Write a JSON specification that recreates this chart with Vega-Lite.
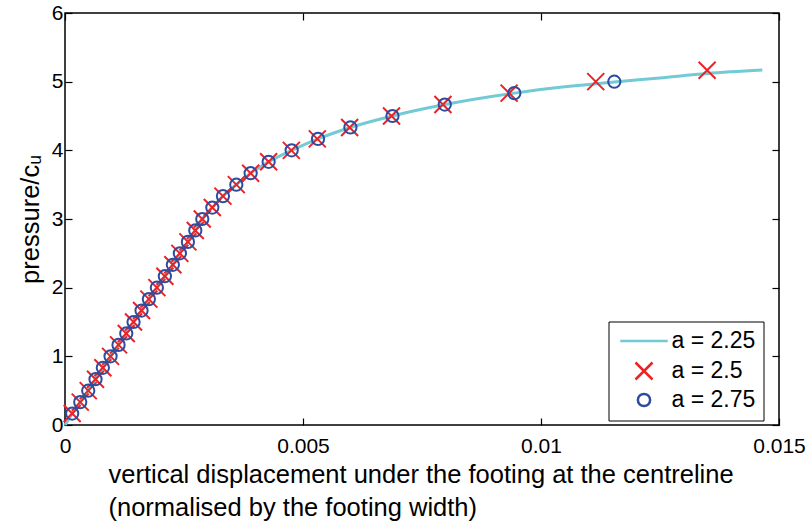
{
  "$schema": "https://vega.github.io/schema/vega-lite/v6.json",
  "width": 714,
  "height": 412,
  "autosize": "none",
  "padding": {"left": 65, "top": 13, "right": 30, "bottom": 98},
  "config": {
    "view": {"stroke": "black", "strokeWidth": 1.5},
    "font": "Liberation Sans",
    "axis": {
      "domain": false,
      "grid": false,
      "ticks": true,
      "tickColor": "black",
      "tickWidth": 1.2,
      "tickSize": -7,
      "labelFont": "Liberation Sans",
      "labelFontSize": 21,
      "labelColor": "black",
      "titleFont": "Liberation Sans",
      "titleFontSize": 25.5,
      "titleFontWeight": "normal",
      "titleColor": "black"
    },
    "legend": {
      "orient": "none",
      "legendX": 543.5,
      "legendY": 308.5,
      "strokeColor": "black",
      "fillColor": "white",
      "padding": 8,
      "labelFont": "Liberation Sans",
      "labelFontSize": 23,
      "labelColor": "black",
      "symbolStrokeWidth": 2.5,
      "symbolOffset": 16,
      "labelOffset": 16,
      "rowPadding": 4
    }
  },
  "data": {
    "values": [
      {"series": "a = 2.25", "x": 0, "y": 0},
      {"series": "a = 2.25", "x": 0.000151, "y": 0.1667},
      {"series": "a = 2.25", "x": 0.000320, "y": 0.3333},
      {"series": "a = 2.25", "x": 0.000488, "y": 0.5},
      {"series": "a = 2.25", "x": 0.000641, "y": 0.6667},
      {"series": "a = 2.25", "x": 0.000795, "y": 0.8333},
      {"series": "a = 2.25", "x": 0.000957, "y": 1.0},
      {"series": "a = 2.25", "x": 0.001125, "y": 1.1667},
      {"series": "a = 2.25", "x": 0.001287, "y": 1.3333},
      {"series": "a = 2.25", "x": 0.001440, "y": 1.5},
      {"series": "a = 2.25", "x": 0.001608, "y": 1.6667},
      {"series": "a = 2.25", "x": 0.001762, "y": 1.8333},
      {"series": "a = 2.25", "x": 0.001930, "y": 2.0},
      {"series": "a = 2.25", "x": 0.002098, "y": 2.1667},
      {"series": "a = 2.25", "x": 0.002266, "y": 2.3333},
      {"series": "a = 2.25", "x": 0.002413, "y": 2.5},
      {"series": "a = 2.25", "x": 0.002582, "y": 2.6667},
      {"series": "a = 2.25", "x": 0.002737, "y": 2.8333},
      {"series": "a = 2.25", "x": 0.002884, "y": 3.0},
      {"series": "a = 2.25", "x": 0.003095, "y": 3.1667},
      {"series": "a = 2.25", "x": 0.003318, "y": 3.3333},
      {"series": "a = 2.25", "x": 0.003599, "y": 3.5},
      {"series": "a = 2.25", "x": 0.003900, "y": 3.6667},
      {"series": "a = 2.25", "x": 0.004278, "y": 3.8333},
      {"series": "a = 2.25", "x": 0.004762, "y": 4.0},
      {"series": "a = 2.25", "x": 0.005315, "y": 4.1667},
      {"series": "a = 2.25", "x": 0.005996, "y": 4.3333},
      {"series": "a = 2.25", "x": 0.006879, "y": 4.5},
      {"series": "a = 2.25", "x": 0.007978, "y": 4.6667},
      {"series": "a = 2.25", "x": 0.009440, "y": 4.8333},
      {"series": "a = 2.25", "x": 0.010500, "y": 4.925},
      {"series": "a = 2.25", "x": 0.011540, "y": 4.995},
      {"series": "a = 2.25", "x": 0.012500, "y": 5.055},
      {"series": "a = 2.25", "x": 0.013490, "y": 5.12},
      {"series": "a = 2.25", "x": 0.014650, "y": 5.17},

      {"series": "a = 2.5", "x": 0.000151, "y": 0.1667},
      {"series": "a = 2.5", "x": 0.000320, "y": 0.3333},
      {"series": "a = 2.5", "x": 0.000488, "y": 0.5},
      {"series": "a = 2.5", "x": 0.000641, "y": 0.6667},
      {"series": "a = 2.5", "x": 0.000795, "y": 0.8333},
      {"series": "a = 2.5", "x": 0.000957, "y": 1.0},
      {"series": "a = 2.5", "x": 0.001125, "y": 1.1667},
      {"series": "a = 2.5", "x": 0.001287, "y": 1.3333},
      {"series": "a = 2.5", "x": 0.001440, "y": 1.5},
      {"series": "a = 2.5", "x": 0.001608, "y": 1.6667},
      {"series": "a = 2.5", "x": 0.001762, "y": 1.8333},
      {"series": "a = 2.5", "x": 0.001930, "y": 2.0},
      {"series": "a = 2.5", "x": 0.002098, "y": 2.1667},
      {"series": "a = 2.5", "x": 0.002266, "y": 2.3333},
      {"series": "a = 2.5", "x": 0.002413, "y": 2.5},
      {"series": "a = 2.5", "x": 0.002582, "y": 2.6667},
      {"series": "a = 2.5", "x": 0.002737, "y": 2.8333},
      {"series": "a = 2.5", "x": 0.002884, "y": 3.0},
      {"series": "a = 2.5", "x": 0.003095, "y": 3.1667},
      {"series": "a = 2.5", "x": 0.003318, "y": 3.3333},
      {"series": "a = 2.5", "x": 0.003599, "y": 3.5},
      {"series": "a = 2.5", "x": 0.003900, "y": 3.6667},
      {"series": "a = 2.5", "x": 0.004278, "y": 3.8333},
      {"series": "a = 2.5", "x": 0.004755, "y": 4.0},
      {"series": "a = 2.5", "x": 0.005300, "y": 4.1667},
      {"series": "a = 2.5", "x": 0.005980, "y": 4.3333},
      {"series": "a = 2.5", "x": 0.006860, "y": 4.5},
      {"series": "a = 2.5", "x": 0.007940, "y": 4.6667},
      {"series": "a = 2.5", "x": 0.009330, "y": 4.8333},
      {"series": "a = 2.5", "x": 0.011150, "y": 5.0},
      {"series": "a = 2.5", "x": 0.013490, "y": 5.1667},

      {"series": "a = 2.75", "x": 0.000151, "y": 0.1667},
      {"series": "a = 2.75", "x": 0.000320, "y": 0.3333},
      {"series": "a = 2.75", "x": 0.000488, "y": 0.5},
      {"series": "a = 2.75", "x": 0.000641, "y": 0.6667},
      {"series": "a = 2.75", "x": 0.000795, "y": 0.8333},
      {"series": "a = 2.75", "x": 0.000957, "y": 1.0},
      {"series": "a = 2.75", "x": 0.001125, "y": 1.1667},
      {"series": "a = 2.75", "x": 0.001287, "y": 1.3333},
      {"series": "a = 2.75", "x": 0.001440, "y": 1.5},
      {"series": "a = 2.75", "x": 0.001608, "y": 1.6667},
      {"series": "a = 2.75", "x": 0.001762, "y": 1.8333},
      {"series": "a = 2.75", "x": 0.001930, "y": 2.0},
      {"series": "a = 2.75", "x": 0.002098, "y": 2.1667},
      {"series": "a = 2.75", "x": 0.002266, "y": 2.3333},
      {"series": "a = 2.75", "x": 0.002413, "y": 2.5},
      {"series": "a = 2.75", "x": 0.002582, "y": 2.6667},
      {"series": "a = 2.75", "x": 0.002737, "y": 2.8333},
      {"series": "a = 2.75", "x": 0.002884, "y": 3.0},
      {"series": "a = 2.75", "x": 0.003095, "y": 3.1667},
      {"series": "a = 2.75", "x": 0.003318, "y": 3.3333},
      {"series": "a = 2.75", "x": 0.003599, "y": 3.5},
      {"series": "a = 2.75", "x": 0.003900, "y": 3.6667},
      {"series": "a = 2.75", "x": 0.004278, "y": 3.8333},
      {"series": "a = 2.75", "x": 0.004762, "y": 4.0},
      {"series": "a = 2.75", "x": 0.005315, "y": 4.1667},
      {"series": "a = 2.75", "x": 0.005996, "y": 4.3333},
      {"series": "a = 2.75", "x": 0.006879, "y": 4.5},
      {"series": "a = 2.75", "x": 0.007978, "y": 4.6667},
      {"series": "a = 2.75", "x": 0.009440, "y": 4.8333},
      {"series": "a = 2.75", "x": 0.011540, "y": 5.0}
    ]
  },
  "layer": [
    {
      "transform": [{"filter": "datum.series === 'a = 2.25'"}],
      "mark": {"type": "line", "strokeWidth": 3, "interpolate": "monotone"},
      "encoding": {
        "x": {
          "field": "x", "type": "quantitative",
          "scale": {"domain": [0, 0.015], "nice": false, "zero": false},
          "axis": {
            "orient": "bottom",
            "values": [0, 0.005, 0.01, 0.015],
            "format": ".3~f",
            "labelPadding": 17,
            "labelFlush": false,
            "labelOverlap": false,
            "labelBound": false,
            "title": ["vertical displacement under the footing at the centreline", "\u00a0(normalised by the footing width)"],
            "titleAnchor": "start",
            "titleAlign": "left",
            "titleX": 43,
            "titlePadding": 6,
            "titleLineHeight": 33
          }
        },
        "y": {
          "field": "y", "type": "quantitative",
          "scale": {"domain": [0, 6], "nice": false},
          "axis": {
            "orient": "left",
            "values": [0, 1, 2, 3, 4, 5, 6],
            "labelPadding": 9,
            "title": "pressure/c\u1d64",
            "titlePadding": 8
          }
        },
        "color": {
          "field": "series", "type": "nominal",
          "scale": {"domain": ["a = 2.25", "a = 2.5", "a = 2.75"], "range": ["#72cad6", "#ec2227", "#2e4c9f"]},
          "legend": {"title": null}
        }
      }
    },
    {
      "transform": [{"filter": "datum.series !== 'a = 2.25'"}],
      "mark": {"type": "point", "filled": false, "strokeWidth": 2, "opacity": 1},
      "encoding": {
        "x": {
          "field": "x", "type": "quantitative",
          "axis": {"orient": "top", "values": [0, 0.005, 0.01, 0.015], "labels": false, "title": null}
        },
        "y": {
          "field": "y", "type": "quantitative",
          "axis": {"orient": "right", "values": [0, 1, 2, 3, 4, 5, 6], "labels": false, "title": null}
        },
        "color": {"field": "series", "type": "nominal", "legend": {"title": null}},
        "shape": {
          "field": "series", "type": "nominal",
          "scale": {"domain": ["a = 2.25", "a = 2.5", "a = 2.75"], "range": ["M-2.8,0L2.8,0", "M-1,-1L1,1M-1,1L1,-1", "circle"]},
          "legend": {"title": null}
        },
        "size": {
          "field": "series", "type": "nominal",
          "scale": {"type": "ordinal", "domain": ["a = 2.25", "a = 2.5", "a = 2.75"], "range": [289, 289, 150]},
          "legend": {"title": null}
        }
      }
    }
  ],
  "resolve": {"axis": {"x": "independent", "y": "independent"}}
}
